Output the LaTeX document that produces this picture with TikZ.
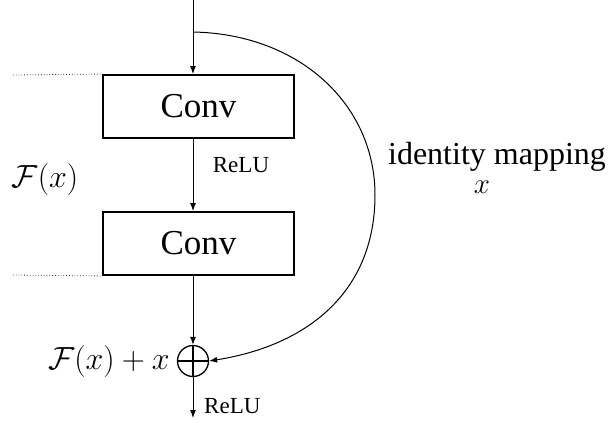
\RequirePackage{fix-cm}
\documentclass[tikz,border=0pt]{standalone}
\usepackage{fontspec}
\setmainfont{Liberation Serif}
\usetikzlibrary{arrows.meta}
\begin{document}
\begin{tikzpicture}[x=1pt,y=-1pt,
  arr/.style={-{Latex[length=8pt,width=6pt]}, line width=1pt},
  convbox/.style={draw, line width=1.9pt, minimum width=191pt, minimum height=63pt,
    inner sep=0pt, font=\fontsize{35}{40}\selectfont},
  sumnode/.style={draw, circle, line width=1.3pt, minimum size=31pt, inner sep=0pt,
    path picture={\draw[line width=1.3pt] (path picture bounding box.north) -- (path picture bounding box.south)
      (path picture bounding box.west) -- (path picture bounding box.east);}},
  small/.style={font=\fontsize{23}{26}\selectfont, inner sep=0pt},
  big/.style={font=\fontsize{32}{36}\selectfont, inner sep=0pt},
  mathlbl/.style={font=\fontsize{32}{37}\selectfont, inner sep=0pt},
  guide/.style={dotted, black!80, line width=0.8pt}]
\useasboundingbox (0,0) rectangle (614,423);

% main signal path
\coordinate (top) at (193,0);
\coordinate (split) at (193,32);
\coordinate (out) at (193,418);
\node[convbox] (c1) at (198.5,106.5) {Conv};
\node[convbox] (c2) at (198.5,243.5) {Conv};
\node[sumnode] (sum) at (193,361) {};

\draw[arr] (top) -- (top |- c1.north);
\draw[arr] (c1.south -| top) -- (c2.north -| top);
\draw[arr] (c2.south -| top) -- (sum.north);
\draw[arr] (sum.south) -- (out);

% shortcut connection
\draw[arr] (split) .. controls (300,34) and (375,105) .. (375,195)
  .. controls (375,290) and (310,345) .. (sum.east);

% dotted guides marking the residual block
\coordinate (g1) at (13,75);
\coordinate (g2) at (13,275);
\draw[guide] (g1) -- (c1.north west);
\draw[guide] (g2) -- (c2.south west);

% labels
\node[small] (r1) at (241,165) {ReLU};
\node[small, anchor=west] (r2) at (204,406) {ReLU};
\node[mathlbl] (fx) at (45,179) {$\mathcal{F}(x)$};
\node[mathlbl, anchor=east] (fxx) at (170,361) {$\mathcal{F}(x)+x$};
\node[big] (idm) at (497,157) {identity mapping};
\node[mathlbl, font=\fontsize{29}{33}\selectfont] (idx) at (482,187) {$x$};
\end{tikzpicture}
\end{document}
